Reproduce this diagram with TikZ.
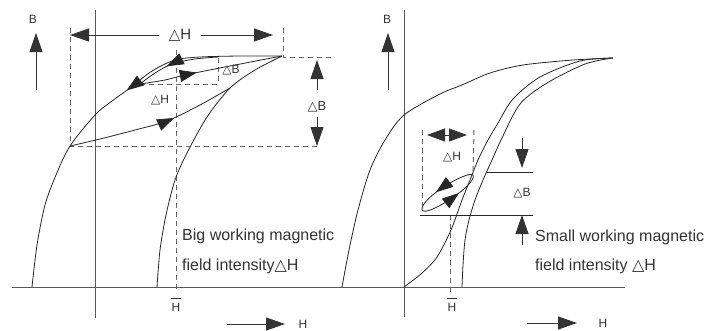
\documentclass[tikz,border=0pt]{standalone}
\usepackage{fontspec}
\setmainfont{Liberation Sans}
\newfontfamily\symfont{DejaVu Sans}
\usetikzlibrary{arrows.meta,decorations.markings}

\newcommand{\deltri}{{\symfont △}}

\tikzset{
  curve/.style = {draw = black!85, line width = 0.8pt},
  axis/.style = {draw = black!65, line width = 1pt},
  guide/.style = {draw = black!60, line width = 1pt, dash pattern = on 5pt off 4pt},
  bigarrow/.style = {-{Triangle[length = 19pt, width = 13pt]}, draw = black!80, fill = black, line width = 0.9pt},
  midarrow/.style = {postaction = {decorate, decoration = {markings,
      mark = at position #1 with {\arrow{Triangle[length = 17pt, width = 12pt]}}}}},
  lbl/.style = {font = \fontsize{12}{14}\selectfont, text = black!80, inner sep = 0pt},
  note/.style = {font = \fontsize{16}{18}\selectfont, text = black!80, inner sep = 0pt, anchor = west}
}

\begin{document}
\begin{tikzpicture}[x = 1pt, y = -1pt]
        \useasboundingbox (0,0) rectangle (707,330);
        % ---------- left: big working field ----------
        % points
        \coordinate (tipL) at (282,56);
        \coordinate (cornL) at (70,146);
        \coordinate (cornS) at (140,84);
        \coordinate (topS) at (218,57);
        % axis
        \path[axis] (12,287) -- (370,287);
        \path[axis] (95,10) -- (95,318);
        \node[lbl] (BL) at (33,19) {B};
        \coordinate (BLtail) at (36,90);
        \coordinate (BLhead) at (36,33);
        \path[bigarrow] (BLtail) -- (BLhead);
        \node[lbl] (HL) at (303,324) {H};
        \coordinate (HLtail) at (227,324);
        \coordinate (HLhead) at (285,324);
        \path[bigarrow] (HLtail) -- (HLhead);
        % guides
        \path[guide] (70,28) -- (cornL) -- (317,146);
        \path[guide] (283,28) -- (283,57) -- (332,57);
        \path[guide] (176,50) -- (176,293);
        \path[guide] (cornS) -- (218,84) -- (topS);
        % major loop
        \path[curve, midarrow = 0.42] plot[smooth] coordinates {(tipL) (240,56) (200,57) (175,60) (152,71) (130,88) (112,101) (95,115) (cornL) (56,175) (45,205) (37,245) (32,287)};
        \path[curve] plot[smooth] coordinates {(157,287) (160,250) (166,215) (175,180) (187,153) (207,117) (230,88) (255,70) (tipL)};
        % big minor loop
        \path[curve, midarrow = 0.63] plot[smooth] coordinates {(cornL) (100,139) (135,130) (167,121) (200,105) (230,88)};
        % small minor loop
        \path[curve, midarrow = 0.62] plot[smooth] coordinates {(topS) (195,59) (172,64) (155,73) (cornS)};
        \path[curve, midarrow = 0.4] plot[smooth] coordinates {(cornS) (165,80) (185,75) (230,66) (tipL)};
        % labels
        \node[lbl, font = \fontsize{15}{17}\selectfont, inner xsep = 10pt] (dHtop) at (180,35) {\deltri H};
        \coordinate (dHl) at (70,35);
        \coordinate (dHr) at (273,35);
        \path[bigarrow] (dHtop) -- (dHl);
        \path[bigarrow] (dHtop) -- (dHr);
        \node[lbl, font = \fontsize{13}{15}\selectfont] (dBr) at (317,107) {\deltri B};
        \coordinate (dBupT) at (317,90);
        \coordinate (dBupH) at (317,60);
        \coordinate (dBdnT) at (317,117);
        \coordinate (dBdnH) at (317,146);
        \path[bigarrow] (dBupT) -- (dBupH);
        \path[bigarrow] (dBdnT) -- (dBdnH);
        \node[lbl] (dBs) at (231,70) {\deltri B};
        \node[lbl] (dHs) at (160,100) {\deltri H};
        \node[lbl] (HbarL) at (176,307) {H};
        \draw[black!80, line width = 0.9pt] ([xshift = -5pt, yshift = 4pt]HbarL.north) -- ([xshift = 5pt, yshift = 4pt]HbarL.north);
        \node[note] (bigA) at (182,236) {Big working magnetic};
        \node[note] (bigB) at (182,266) {field intensity\deltri H};
        % ---------- right: small working field ----------
        % points
        \coordinate (tipR) at (613,58);
        \coordinate (OR) at (404,287);
        \coordinate (loopA) at (422,210);
        \coordinate (loopB) at (473,175);
        % axis
        \path[axis] (340,287) -- (625,287);
        \path[axis] (404,10) -- (404,317);
        \node[lbl] (BR) at (387,19) {B};
        \coordinate (BRtail) at (388,90);
        \coordinate (BRhead) at (388,33);
        \path[bigarrow] (BRtail) -- (BRhead);
        \node[lbl] (HR) at (603,323) {H};
        \coordinate (HRtail) at (527,323);
        \coordinate (HRhead) at (577,323);
        \path[bigarrow] (HRtail) -- (HRhead);
        % guides
        \path[guide] (422,130) -- (loopA);
        \path[guide] (474,130) -- (loopB);
        \path[guide] (450,215) -- (450,293);
        % major loop
        \path[curve] plot[smooth] coordinates {(tipR) (573,60) (523,65) (490,73) (462,85) (440,94) (OR |- 0,115) (385,140) (370,170) (358,210) (349,250) (342,287)};
        \path[curve] plot[smooth] coordinates {(OR) (422,273) (437,257) (451,230) (462,200) (470,180) (478,160) (488,140) (498,123) (513,99) (540,77) (580,61) (tipR)};
        \path[curve] plot[smooth] coordinates {(462,287) (463,265) (465,240) (469,220) (475,200) (483,180) (492,160) (502,138) (520,104) (547,83) (585,64) (tipR)};
        % minor loop
        \path[curve, midarrow = 0.64] (loopB) .. controls (468,170) and (420,198) .. (loopA);
        \path[curve, midarrow = 0.64] (loopA) .. controls (426,218) and (478,184) .. (loopB);
        % levels
        \coordinate (lvlA) at (487,172);
        \coordinate (lvlB) at (420,215);
        \path[curve] (lvlA) -- (533,172);
        \path[curve] (lvlB) -- (533,215);
        % labels
        \coordinate (dHsl) at (427,135);
        \coordinate (dHsr) at (467,135);
        \path[{Triangle[length = 18pt, width = 13pt]}-{Triangle[length = 18pt, width = 13pt]}, draw = black!80, line width = 0.9pt] (dHsl) -- (dHsr);
        \node[lbl] (dHR) at (452,157) {\deltri H};
        \node[lbl] (dBR) at (522,193) {\deltri B};
        \coordinate (dBRupT) at (522,245);
        \coordinate (dBRupH) at (522,215);
        \coordinate (dBRdnT) at (522,138);
        \coordinate (dBRdnH) at (522,168);
        \path[bigarrow] (dBRupT) -- (dBRupH);
        \path[bigarrow] (dBRdnT) -- (dBRdnH);
        \node[lbl] (HbarR) at (452,307) {H};
        \draw[black!80, line width = 0.9pt] ([xshift = -5pt, yshift = 4pt]HbarR.north) -- ([xshift = 5pt, yshift = 4pt]HbarR.north);
        \node[note] (smA) at (535,237) {Small working magnetic};
        \node[note] (smB) at (535,266) {field intensity \deltri H};
\end{tikzpicture}
\end{document}
